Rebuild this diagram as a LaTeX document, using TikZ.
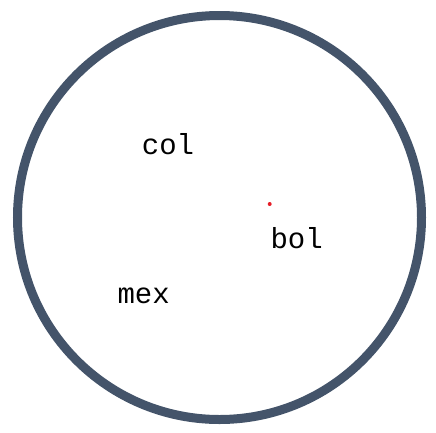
\documentclass[tikz,border=0pt]{standalone}
\usepackage{fontspec}
\setmonofont{Liberation Mono}
\definecolor{ringcol}{RGB}{68,84,106}
\definecolor{dotred}{RGB}{230,30,40}
\begin{document}
\begin{tikzpicture}[x=1pt,y=-1pt,
  lbl/.style={anchor=base,inner sep=0pt,font=\ttfamily\fontsize{29}{29}\selectfont,text=black}]
\useasboundingbox (0,0) rectangle (436,432);
\node[draw=ringcol,line width=9pt,circle,minimum size=404pt,inner sep=0pt] (ring) at (219.5,217.5) {};
\node[lbl] (col) at (168,154.3) {col};
\node[lbl] (bol) at (296.7,248.3) {bol};
\node[lbl] (mex) at (143.7,303) {mex};
\fill[dotred] (269.7,204) circle (2pt) coordinate (dot);
\end{tikzpicture}
\end{document}
